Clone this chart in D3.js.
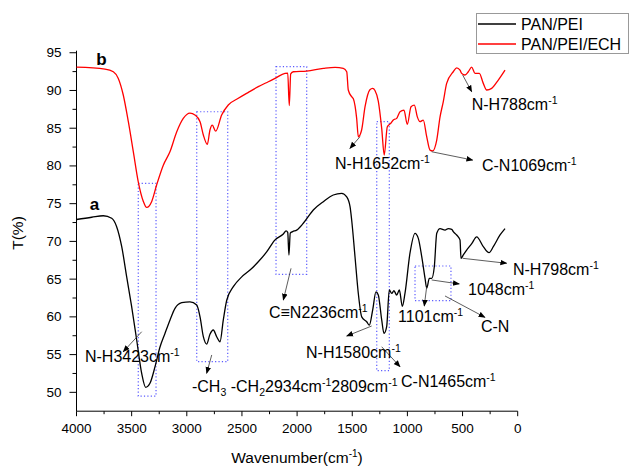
<!DOCTYPE html>
<html><head><meta charset="utf-8">
<script src="https://cdn.jsdelivr.net/npm/d3@7"></script>
<style>
html,body{margin:0;padding:0;background:#fff;}
svg{display:block;font-family:"Liberation Sans",Arial,sans-serif;}
</style></head>
<body>
<svg id="chart" width="630" height="467"></svg>
<script>
// ---- data (wavenumber cm-1, transmittance %) ----
const seriesNames = ["PAN/PEI", "PAN/PEI/ECH"];
const wnA = [4000,3862,3757,3681,3636,3590,3545,3500,3454,3409,3373,3334,3288,3243,3198,3152,3107,3046,2971,2910,2880,2850,2820,2790,2760,2729,2699,2669,2638,2578,2502,2427,2352,2276,2200,2125,2100,2085,2074,2062,2040,2004,1944,1853,1762,1672,1596,1550,1520,1505,1475,1445,1414,1369,1345,1315,1285,1264,1233,1212,1188,1164,1142,1122,1097,1073,1046,1022,977,931,901,870,840,825,801,780,756,734,704,659,629,598,584,553,523,514,493,463,417,372,312,260,221,160,115];
const tA  = [72.9,73.2,73.4,73.06,71.95,69.3,65.3,61.35,56.9,52.5,50.67,51.2,53.4,56.0,57.8,59.6,61.13,61.88,62.0,61.57,60.0,57.37,56.4,57.7,58.26,57.37,56.7,59.6,62.2,64.0,65.3,66.2,67.3,68.6,70.2,70.98,71.4,71.2,68.2,71.1,71.3,71.5,72.4,74.16,75.26,76.15,76.37,75.9,74.6,72.8,67.97,63.1,60.0,59.35,58.9,60.9,63.3,62.9,59.6,57.8,58.7,63.56,63.1,63.46,62.9,63.56,61.4,63.1,68.4,71.07,70.4,67.97,65.1,63.8,65.1,65.1,66.64,71.07,71.7,71.5,71.7,71.6,71.3,70.85,70.2,67.75,68.2,68.85,69.7,70.6,69.3,68.5,69.3,70.85,71.7];
const wnB = [4000,3742,3666,3621,3576,3530,3485,3440,3394,3364,3318,3273,3213,3152,3092,3032,2971,2926,2880,2850,2814,2790,2769,2738,2684,2624,2533,2442,2352,2261,2200,2110,2085,2071,2058,2034,1913,1762,1656,1581,1550,1536,1505,1490,1460,1445,1415,1384,1340,1315,1294,1264,1233,1210,1182,1151,1128,1097,1067,1031,1001,967,937,910,886,856,825,795,771,734,704,675,644,584,553,523,508,478,448,417,387,348,312,281,236,176,115];
const tB  = [93.1,92.84,92.48,91.6,89.4,85.86,81.9,77.9,75.3,74.5,75.3,77.5,80.1,81.9,84.5,86.3,87.0,86.75,85.86,84.1,82.86,84.76,85.4,84.6,86.75,88.07,88.96,89.75,90.5,91.16,91.6,92.27,92.3,88.0,92.2,92.48,92.57,92.93,93.07,92.93,92.48,90.06,89.17,88.9,86.3,83.87,84.76,87.85,90.1,90.28,90.0,88.6,84.98,81.45,85.2,85.64,86.08,86.3,87.18,87.4,85.5,87.85,88.07,86.5,85.86,86.08,83.87,82.1,82.0,83.43,86.5,88.5,90.94,92.48,93.0,92.7,92.27,92.05,92.48,93.1,92.27,92.27,90.94,90.06,90.28,91.38,92.7];
const xTicks = [4000,3500,3000,2500,2000,1500,1000,500,0];
const yTicks = [50,55,60,65,70,75,80,85,90,95];

// ---- annotations (in data units) ----
const labels = [
  {wn:3820, t:93.37, bold:true, parts:[["b"]]},
  {wn:3880, t:74.16, bold:true, parts:[["a"]]},
  {wn:3923, t:54.02, parts:[["N-H3423cm"],["-1","sup"]]},
  {wn:2953, t:50.04, parts:[["-CH"],["3","sub"],[" -CH"],["2","sub"],["2934cm"],["-1","sup"],["2809cm"],["-1","sup"]]},
  {wn:2255, t:59.85, parts:[["C\u2261N2236cm"],["-1","sup"]]},
  {wn:1919, t:54.55, parts:[["N-H1580cm"],["-1","sup"]]},
  {wn:1058, t:50.70, parts:[["C-N1465cm"],["-1","sup"]]},
  {wn:1085, t:59.32, parts:[["1101cm"],["-1","sup"]]},
  {wn:450,  t:62.89, parts:[["1048cm"],["-1","sup"]]},
  {wn:333,  t:57.99, parts:[["C-N"]]},
  {wn:43,   t:65.54, parts:[["N-H798cm"],["-1","sup"]]},
  {wn:1656, t:79.59, parts:[["N-H1652cm"],["-1","sup"]]},
  {wn:324,  t:79.33, parts:[["C-N1069cm"],["-1","sup"]]},
  {wn:417,  t:87.41, parts:[["N-H788cm"],["-1","sup"]]}
];
const arrows = [
  [3409,58.03,3576,55.38],[2774,54.95,2820,52.52],[2055,66.43,2125,62.23],
  [1324,58.79,1550,57.46],[1233,56.04,1067,53.39],[825,64.0,847,61.44],
  [780,64.89,530,64.36],[659,62.77,297,59.94],[499,67.76,100,67.1],
  [1430,83.87,1521,82.33],[780,81.88,408,80.78],[499,92.05,417,89.83]
];
const boxes = [
  [3440,3279,77.7,49.51],[2910,2629,87.18,54.06],[2191,1913,93.15,65.64],
  [1278,1164,85.86,52.87],[931,605,66.74,62.14]
];

const svg = d3.select("#chart");
const x = d3.scaleLinear().domain([4000,0]).range([76.5,517.7]);
const y = d3.scaleLinear().domain([47.5,95.27]).range([411.2,50.7]);

// axes
const xMinor = d3.range(250,4000,500);
const yMinor = d3.range(52.5,95,5);
const ax = svg.append("g").attr("stroke","#000").attr("stroke-width",1);
ax.append("line").attr("x1",x(4000)).attr("x2",x(0)).attr("y1",y(47.5)).attr("y2",y(47.5));
ax.append("line").attr("x1",x(4000)).attr("x2",x(4000)).attr("y1",y(47.5)).attr("y2",y(95.27));
ax.selectAll(".xt").data(xTicks).join("line").attr("x1",d=>x(d)).attr("x2",d=>x(d)).attr("y1",y(47.5)).attr("y2",y(47.5)+5);
ax.selectAll(".xm").data(xMinor).join("line").attr("class","xm").attr("x1",d=>x(d)).attr("x2",d=>x(d)).attr("y1",y(47.5)).attr("y2",y(47.5)+3);
ax.selectAll(".yt").data(yTicks).join("line").attr("class","yt").attr("y1",d=>y(d)).attr("y2",d=>y(d)).attr("x1",x(4000)).attr("x2",x(4000)-7);
ax.selectAll(".ym").data(yMinor).join("line").attr("class","ym").attr("y1",d=>y(d)).attr("y2",d=>y(d)).attr("x1",x(4000)).attr("x2",x(4000)-4);

svg.selectAll(".xl").data(xTicks).join("text").attr("class","xl")
  .attr("x",d=>x(d)).attr("y",y(47.5)+22).attr("text-anchor","middle").attr("font-size",13.5).text(d=>d);
svg.selectAll(".yl").data(yTicks).join("text").attr("class","yl")
  .attr("x",x(4000)-15).attr("y",d=>y(d)+4.5).attr("text-anchor","end").attr("font-size",13.5).text(d=>d);

const xt = svg.append("text").attr("x",297).attr("y",463).attr("text-anchor","middle").attr("font-size",15.5);
xt.append("tspan").text("Wavenumber(cm");
xt.append("tspan").attr("dy",-6).attr("font-size",10).text("-1");
xt.append("tspan").attr("dy",6).text(")");
svg.append("text").attr("transform","translate(23,233) rotate(-90)").attr("text-anchor","middle").attr("font-size",15.5).text("T(%)");

// dotted boxes
svg.selectAll(".bx").data(boxes).join("rect").attr("class","bx")
  .attr("x",d=>x(d[0])).attr("y",d=>y(d[2]))
  .attr("width",d=>x(d[1])-x(d[0])).attr("height",d=>y(d[3])-y(d[2]))
  .attr("fill","none").attr("stroke","#5a5aff").attr("stroke-width",1.2).attr("stroke-dasharray","1.2,2.2");

// curves
const line = d3.line().x(d=>x(d[0])).y(d=>y(d[1])).curve(d3.curveMonotoneX);
const dataA = wnA.map((w,i)=>[w,tA[i]]);
const dataB = wnB.map((w,i)=>[w,tB[i]]);
svg.append("path").datum(dataA).attr("d",line).attr("fill","none").attr("stroke","#000").attr("stroke-width",1.3);
svg.append("path").datum(dataB).attr("d",line).attr("fill","none").attr("stroke","#ff0000").attr("stroke-width",1.3);

// arrows
svg.append("defs").append("marker").attr("id","ah").attr("viewBox","0 0 10 10").attr("refX",9).attr("refY",5)
  .attr("markerWidth",7).attr("markerHeight",7).attr("markerUnits","userSpaceOnUse").attr("orient","auto")
  .append("path").attr("d","M0,1 L10,5 L0,9 Z").attr("fill","#000");
svg.selectAll(".ar").data(arrows).join("line").attr("class","ar")
  .attr("x1",d=>x(d[0])).attr("y1",d=>y(d[1])).attr("x2",d=>x(d[2])).attr("y2",d=>y(d[3]))
  .attr("stroke","#333").attr("stroke-width",0.8).attr("marker-end","url(#ah)");

// labels
labels.forEach(l=>{
  const t = svg.append("text").attr("x",x(l.wn)).attr("y",y(l.t))
    .attr("font-size", l.bold?17:16).attr("font-weight", l.bold?"bold":"normal");
  let off = 0;
  l.parts.forEach(p=>{
    const kind = p[1];
    let target = kind==="sup" ? -6 : kind==="sub" ? 4 : 0;
    const s = t.append("tspan").attr("dy", target-off).text(p[0]);
    if(kind) s.attr("font-size",10.5);
    off = target;
  });
});

// legend
const lg = svg.append("g");
lg.append("rect").attr("x",476.5).attr("y",13.5).attr("width",152).attr("height",40).attr("fill","#fff").attr("stroke","#999");
seriesNames.forEach((n,i)=>{
  const yy = 24 + i*20;
  lg.append("line").attr("x1",478).attr("x2",516).attr("y1",yy).attr("y2",yy).attr("stroke",i?"#ff0000":"#000").attr("stroke-width",1.3);
  lg.append("text").attr("x",521).attr("y",yy+5.5).attr("font-size",16).text(n);
});
</script>
</body></html>
